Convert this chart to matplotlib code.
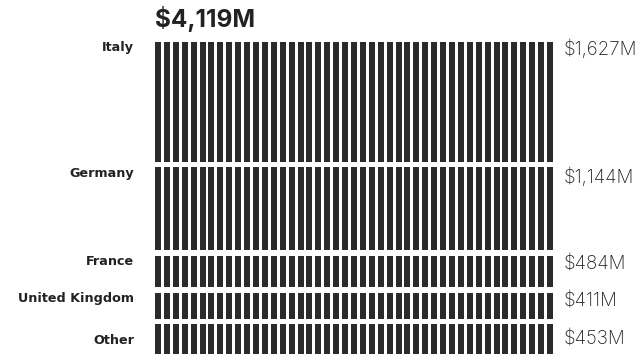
import numpy as np
import matplotlib.pyplot as plt
import matplotlib as mpl

countries = ['Italy', 'Germany', 'France', 'United Kingdom', 'Other']
values = [1627, 1144, 484, 411, 453]
value_labels = ['$1,627M', '$1,144M', '$484M', '$411M', '$453M']
total_label = '$4,119M'

N_STRIPES = 45
STRIPE_W = 0.67
GAP = 70  # taken out of the bottom of every row, in $M units
DARK = '#2b2b2b'

mpl.rcParams['font.family'] = ['Inter', 'DejaVu Sans']

fig = plt.figure(figsize=(6.4, 3.6), dpi=100)
# bar area in pixels: x 155..553, y 42..354
ax = fig.add_axes([155 / 640, 1 - 354 / 360, 398 / 640, 312 / 360])

x = np.arange(N_STRIPES)
bottom = 0
tops = []
for v in values:
    ax.bar(x, v - GAP, bottom=bottom, width=STRIPE_W, align='edge', color=DARK, linewidth=0)
    tops.append(bottom)
    bottom += v

ax.set_xlim(0, N_STRIPES - 1 + STRIPE_W)
ax.set_ylim(bottom - GAP, 0)
ax.axis('off')

for i, (name, top, v, lab) in enumerate(zip(countries, tops, values, value_labels)):
    # labels hang from the top of each row; the last one sits in the middle
    last = i == len(values) - 1
    y = top + (v - GAP) / 2 if last else top
    ax.annotate(name, xy=(0, y), xycoords=('axes fraction', 'data'),
                xytext=(-15, -1 if last else 0.5), textcoords='offset points',
                ha='right', va='center' if last else 'top',
                fontsize=9.2, fontweight='bold', color='#222222', family='DejaVu Sans')
    dy = 2 if i == 0 else (-4 if last else 0)
    ax.annotate(lab, xy=(1, top), xycoords=('axes fraction', 'data'),
                xytext=(8, dy), textcoords='offset points',
                ha='left', va='top', fontsize=13.5, fontweight='light', color='#222222')

ax.annotate(total_label, xy=(0, 1), xycoords='axes fraction',
            xytext=(0, 7), textcoords='offset points',
            ha='left', va='bottom', fontsize=17.5, fontweight='bold', color='#222222')

plt.savefig('out.png', dpi=100)
